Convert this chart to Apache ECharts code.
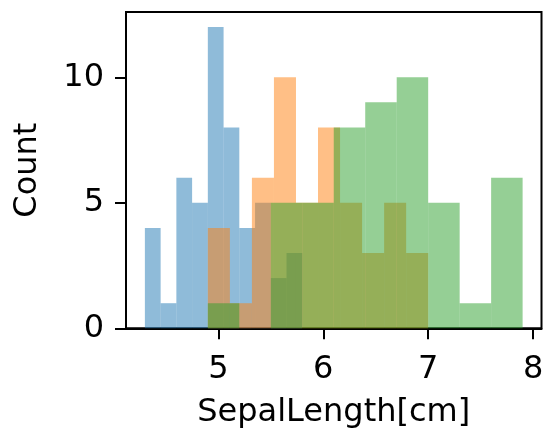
<!DOCTYPE html>
<html>
<head>
<meta charset="utf-8">
<script src="https://cdn.jsdelivr.net/npm/echarts@6/dist/echarts.min.js"></script>
<style>
  html, body { margin: 0; padding: 0; background: #fff; }
  #chart { width: 547px; height: 440px; }
</style>
</head>
<body>
<div id="chart"></div>
<script>
// bin edges + counts per species (10 bins each)
const setosaEdges = [4.3, 4.45, 4.6, 4.75, 4.9, 5.05, 5.2, 5.35, 5.5, 5.65, 5.8]
const setosaCounts = [4, 1, 6, 5, 12, 8, 4, 5, 2, 3]
const versicolorEdges = [4.9, 5.11, 5.32, 5.53, 5.74, 5.95, 6.16, 6.37, 6.58, 6.79, 7.0]
const versicolorCounts = [4, 1, 6, 10, 5, 8, 5, 3, 5, 3]
const virginicaEdges = [4.9, 5.2, 5.5, 5.8, 6.1, 6.4, 6.7, 7.0, 7.3, 7.6, 7.9]
const virginicaCounts = [1, 0, 5, 5, 8, 9, 10, 5, 1, 6]
const xTicks = [5, 6, 7, 8]
const yTicks = [0, 5, 10]

const font = 'DejaVu Sans'

function toBins(edges, counts) {
  let data = []
  for (let i = 0; i < counts.length; i++) {
    data.push([edges[i], edges[i + 1], counts[i]])
  }
  return data
}

function histSeries(name, edges, counts, color) {
  return {
    name: name,
    type: 'custom',
    data: toBins(edges, counts),
    encode: { x: [0, 1], y: 2 },
    renderItem: function (params, api) {
      let p0 = api.coord([api.value(0), api.value(2)])
      let p1 = api.coord([api.value(1), 0])
      return {
        type: 'rect',
        shape: { x: p0[0], y: p0[1], width: p1[0] - p0[0], height: p1[1] - p0[1] },
        style: { fill: color }
      }
    }
  }
}

let chart = echarts.init(document.getElementById('chart'), null, { renderer: 'canvas' })
let option = {
  animation: false,
  grid: {
    left: 126, right: 5.5, top: 12, bottom: 111.7,
    show: true, borderColor: '#000', borderWidth: 2, backgroundColor: 'transparent'
  },
  xAxis: {
    type: 'value',
    min: 4.12,
    max: 8.08,
    name: 'SepalLength[cm]',
    nameLocation: 'middle',
    nameGap: 68,
    nameTextStyle: { color: '#000', fontSize: 32, fontFamily: font },
    splitLine: { show: false },
    axisLine: { show: true, onZero: false, lineStyle: { color: '#000', width: 2 } },
    axisTick: { show: true, length: 11, customValues: xTicks, lineStyle: { color: '#000', width: 2 } },
    axisLabel: { customValues: xTicks, color: '#000', fontSize: 32, fontFamily: font, margin: 25 }
  },
  yAxis: {
    type: 'value',
    min: 0,
    max: 12.6,
    name: 'Count',
    nameLocation: 'middle',
    nameGap: 82,
    nameRotate: 90,
    nameTextStyle: { color: '#000', fontSize: 32, fontFamily: font },
    splitLine: { show: false },
    axisLine: { show: true, lineStyle: { color: '#000', width: 2 } },
    axisTick: { show: true, length: 11, customValues: yTicks, lineStyle: { color: '#000', width: 2 } },
    axisLabel: { customValues: yTicks, color: '#000', fontSize: 32, fontFamily: font, margin: 22 }
  },
  series: [
    histSeries('setosa', setosaEdges, setosaCounts, 'rgba(31,119,180,0.5)'),
    histSeries('versicolor', versicolorEdges, versicolorCounts, 'rgba(255,127,14,0.5)'),
    histSeries('virginica', virginicaEdges, virginicaCounts, 'rgba(44,160,44,0.5)')
  ]
}
chart.setOption(option)
</script>
</body>
</html>
